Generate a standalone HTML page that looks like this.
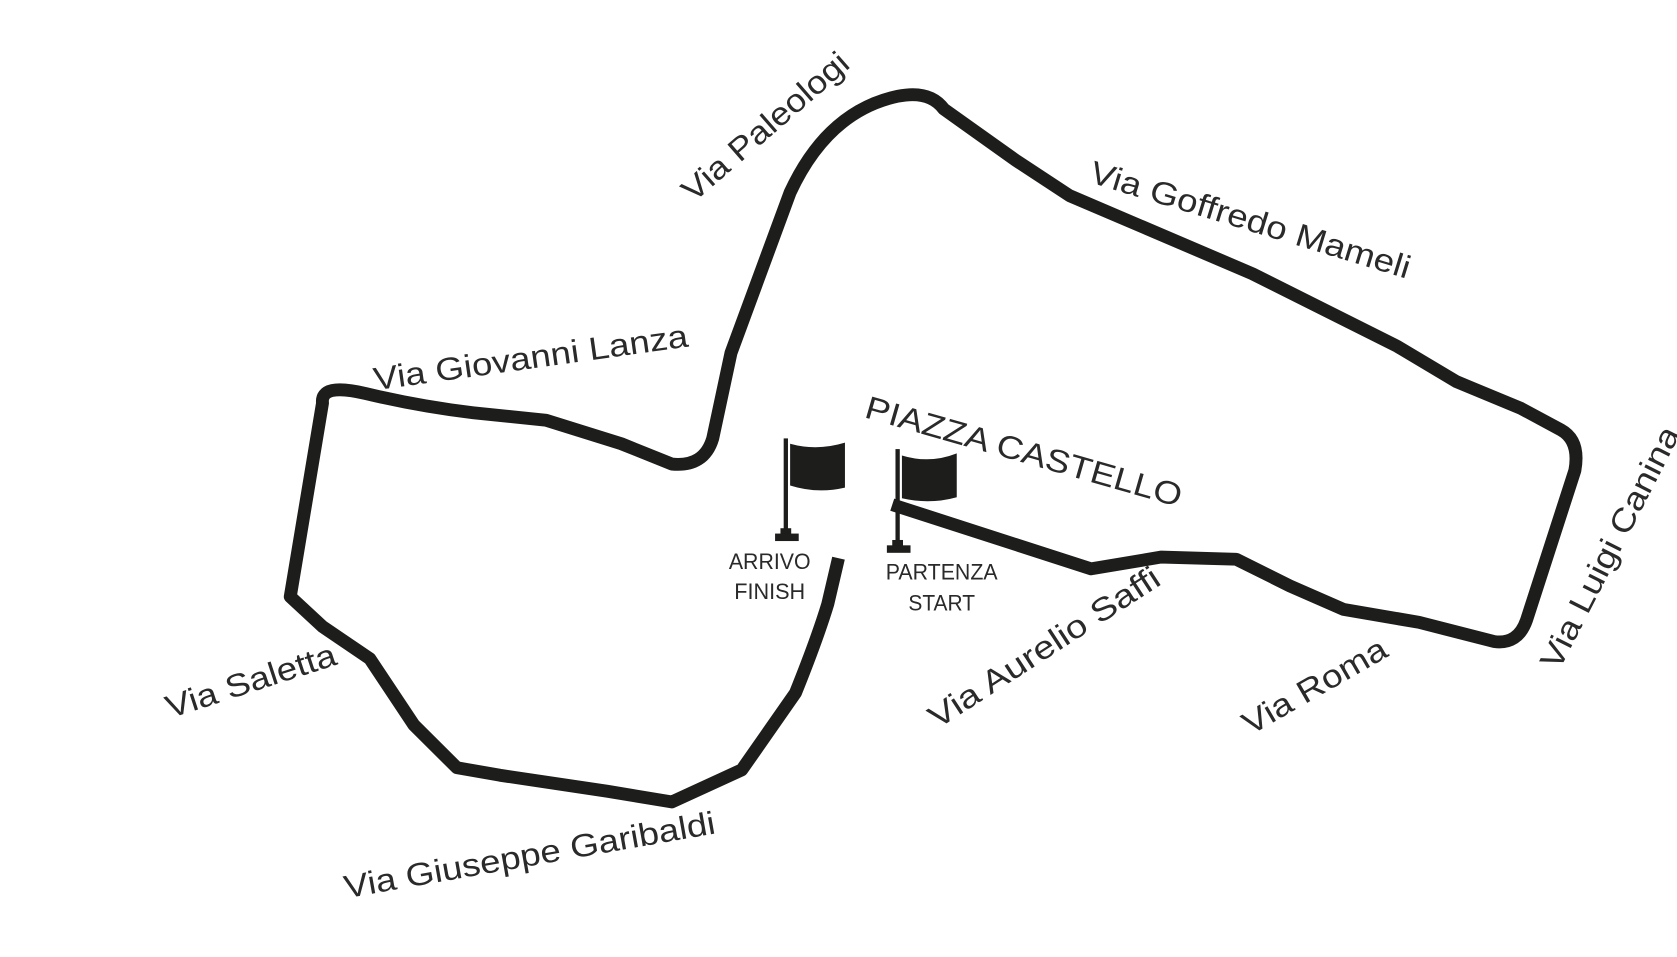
<!DOCTYPE html>
<html><head><meta charset="utf-8"><style>
html,body{margin:0;padding:0;background:#fff;}
svg{display:block}
text{font-family:"Liberation Sans",sans-serif;fill:#2a2a2a;}
</style></head><body>
<svg width="1677" height="957" viewBox="0 0 1560 895" preserveAspectRatio="none" xmlns="http://www.w3.org/2000/svg">
<rect width="1560" height="895" fill="#fff"/>
<path d="M830,472 L1015,532 L1080,521 L1150,523 L1200,548 L1250,570 L1320,582 L1390,600 Q1412,603 1420,580 L1465,440 Q1470,412 1452,402 L1415,382 L1355,357 L1300,324 L1165,256 L995,183 L945,150 L878,102 Q865,84 835,90 Q770,104 735,180 L680,330 L663,410 Q655,437 625,434 L578,415 L508,393 L440,386 Q390,380 340,368 Q298,358 300,377 L270,558 L300,586 L344,616 L385,678 L425,718 L465,725 L565,740 L625,750 L690,720 L740,648 Q760,598 770,565 L780,522" fill="none" stroke="#1d1d1b" stroke-width="12" stroke-linejoin="round"/>
<rect x="729" y="410" width="4" height="90" fill="#1d1d1b"/>
<rect x="726" y="494" width="10" height="6" fill="#1d1d1b"/>
<rect x="721" y="499" width="22" height="7" fill="#1d1d1b"/>
<path d="M735,415 Q760,422 786,414 L786,456 Q760,462 735,454 Z" fill="#1d1d1b"/>
<rect x="833" y="420" width="4" height="92" fill="#1d1d1b"/>
<rect x="830" y="505" width="10" height="6" fill="#1d1d1b"/>
<rect x="825" y="510" width="22" height="7" fill="#1d1d1b"/>
<path d="M839,426 Q865,434 890,424 L890,465 Q865,472 839,466 Z" fill="#1d1d1b"/>
<text x="716" y="532" font-size="21" text-anchor="middle" textLength="76" lengthAdjust="spacingAndGlyphs">ARRIVO</text>
<text x="716" y="560" font-size="21" text-anchor="middle" textLength="66" lengthAdjust="spacingAndGlyphs">FINISH</text>
<text x="876" y="542" font-size="21" text-anchor="middle" textLength="104" lengthAdjust="spacingAndGlyphs">PARTENZA</text>
<text x="876" y="571" font-size="21" text-anchor="middle" textLength="62" lengthAdjust="spacingAndGlyphs">START</text>
<text font-size="30" transform="translate(645,190) rotate(-41)" textLength="195" lengthAdjust="spacingAndGlyphs">Via Paleologi</text>
<text font-size="30" transform="translate(1012,170) rotate(17)" textLength="310" lengthAdjust="spacingAndGlyphs">Via Goffredo Mameli</text>
<text font-size="30" transform="translate(349,365) rotate(-8)" textLength="295" lengthAdjust="spacingAndGlyphs">Via Giovanni Lanza</text>
<text font-size="30" transform="translate(803,390) rotate(16)" textLength="305" lengthAdjust="spacingAndGlyphs">PIAZZA CASTELLO</text>
<text font-size="30" transform="translate(1450,628) rotate(-63)" textLength="250" lengthAdjust="spacingAndGlyphs">Via Luigi Canina</text>
<text font-size="30" transform="translate(872,682) rotate(-33)" textLength="250" lengthAdjust="spacingAndGlyphs">Via Aurelio Saffi</text>
<text font-size="30" transform="translate(1163,688) rotate(-30)" textLength="150" lengthAdjust="spacingAndGlyphs">Via Roma</text>
<text font-size="30" transform="translate(158,672) rotate(-18)" textLength="165" lengthAdjust="spacingAndGlyphs">Via Saletta</text>
<text font-size="30" transform="translate(322,840) rotate(-10)" textLength="350" lengthAdjust="spacingAndGlyphs">Via Giuseppe Garibaldi</text>
</svg>
</body></html>
